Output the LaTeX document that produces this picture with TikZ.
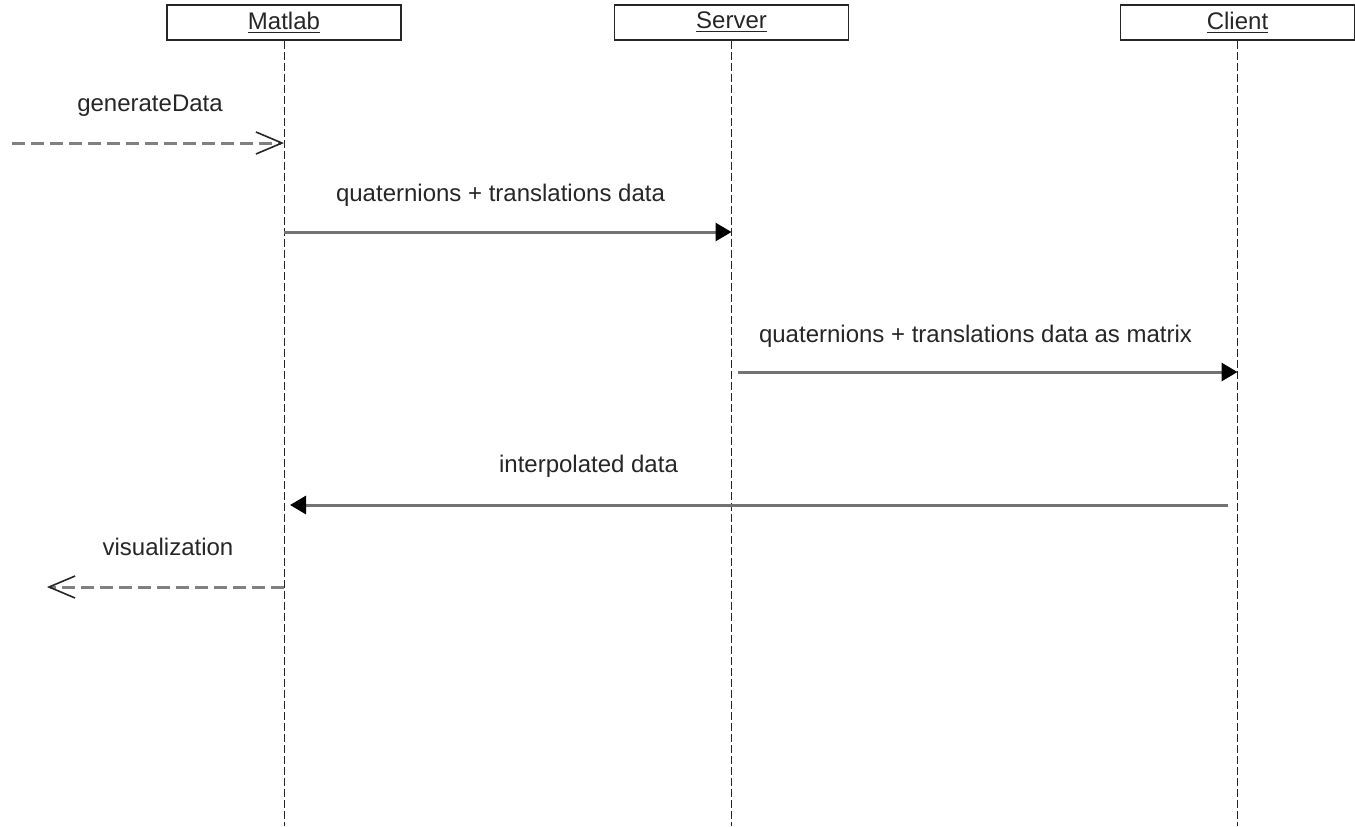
\documentclass[tikz,border=0pt]{standalone}
\usepackage{fontspec}
\setmainfont{Liberation Sans}
\usetikzlibrary{arrows.meta}

\begin{document}
\begin{tikzpicture}[x=0.5pt, y=-0.5pt,
    every node/.style={font=\fontsize{12}{14}\selectfont, text=black!85},
    actor/.style={draw=black!85, line width=0.7pt, rectangle, minimum width=117pt, minimum height=17.5pt, inner sep=0pt},
    lifeline/.style={draw=black!85, line width=0.5pt, dash pattern=on 4pt off 1.5pt},
    syncmsg/.style={draw=black!55, line width=1.5pt, -{Triangle[length=8pt,width=9pt,color=black]}},
    asyncmsg/.style={draw=black!50, line width=1.5pt, dash pattern=on 6.5pt off 3pt, -{Straight Barb[length=13pt,width=11pt,color=black!85,line width=0.8pt]}},
    msglabel/.style={anchor=base, inner sep=0pt}]
    \useasboundingbox (0,0) rectangle (1355,826);
    \node[actor] (matlab) at (284,22.5) {\underline{Matlab}};
    \node[actor] (server) at (731.5,22.5) {\underline{Server}};
    \node[actor] (client) at (1237.5,22.5) {\underline{Client}};
    \coordinate (bottom) at (0,826);
    \draw[lifeline] (matlab.south) -- (matlab.south |- bottom);
    \draw[lifeline] (server.south) -- (server.south |- bottom);
    \draw[lifeline] (client.south) -- (client.south |- bottom);
    \coordinate (start) at (12,143);
    \coordinate (gen) at (284,143);
    \coordinate (quatfrom) at (284,232);
    \coordinate (quatto) at (731.5,232);
    \coordinate (matfrom) at (738,372);
    \coordinate (matto) at (1237.5,372);
    \coordinate (interfrom) at (1228,505);
    \coordinate (interto) at (290,505);
    \coordinate (visfrom) at (284,587);
    \coordinate (visto) at (47,587);
    \draw[asyncmsg] (start) -- (gen);
    \draw[syncmsg] (quatfrom) -- (quatto);
    \draw[syncmsg] (matfrom) -- (matto);
    \draw[syncmsg] (interfrom) -- (interto);
    \draw[asyncmsg] (visfrom) -- (visto);
    \node[msglabel] (genlabel) at (150,111) {generateData};
    \node[msglabel] (quatlabel) at (500.5,201) {quaternions + translations data};
    \node[msglabel] (matlabel) at (975.5,342) {quaternions + translations data as matrix};
    \node[msglabel] (interlabel) at (588.5,472) {interpolated data};
    \node[msglabel] (vislabel) at (168,555) {visualization};
\end{tikzpicture}
\end{document}
